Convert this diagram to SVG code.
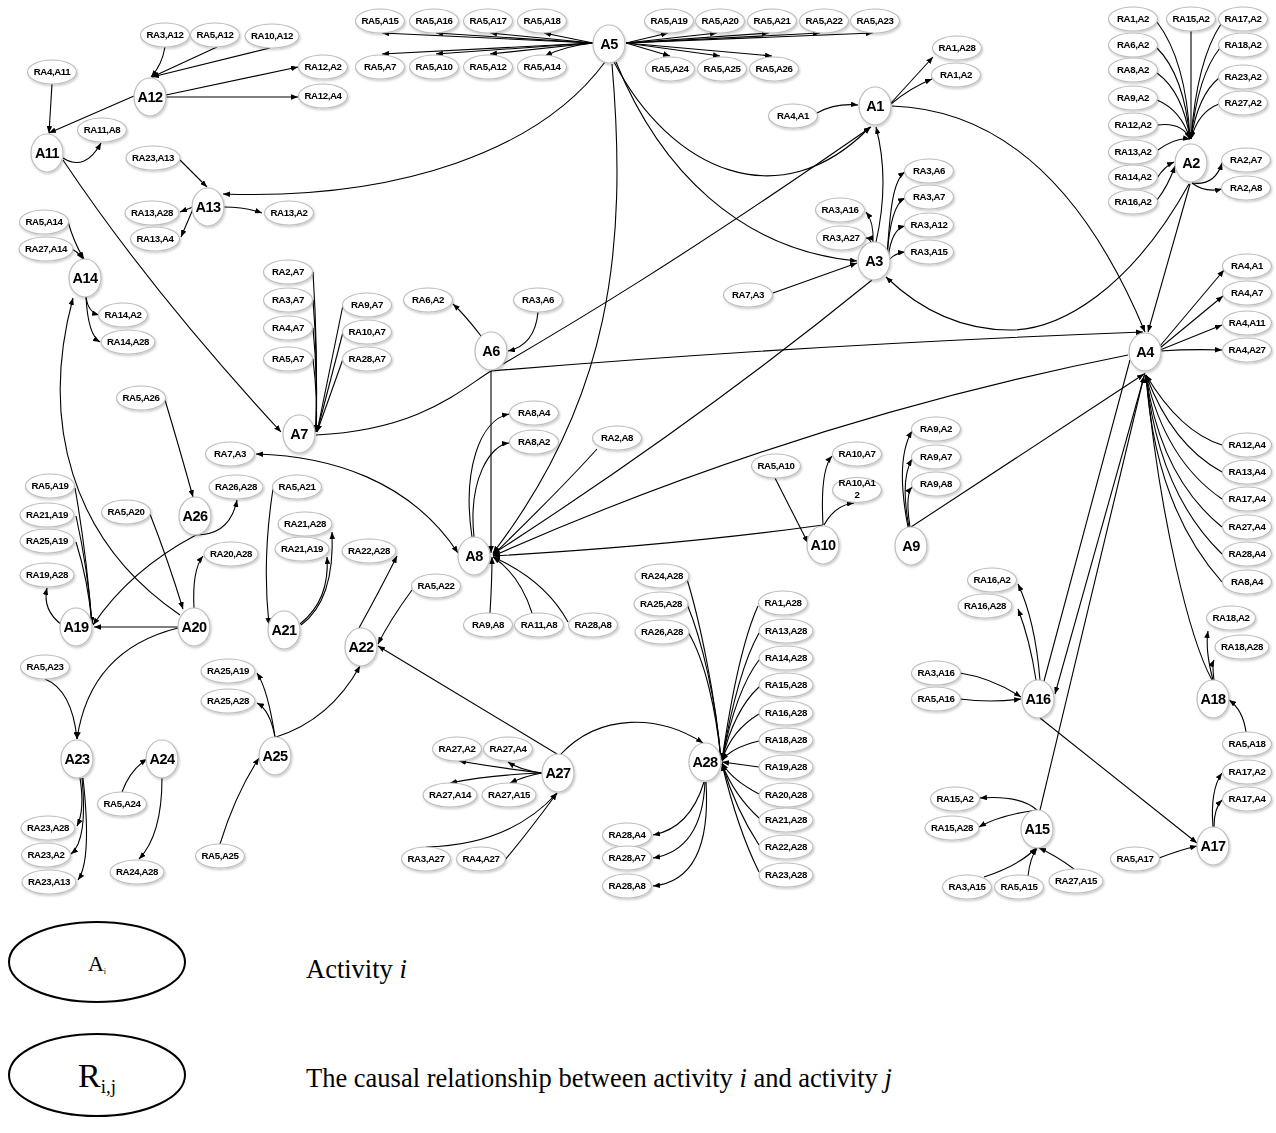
<svg xmlns="http://www.w3.org/2000/svg" width="1276" height="1133" viewBox="0 0 1276 1133">
<defs>
<style>
.n ellipse{fill:#fff;stroke:#bdbdbd;stroke-width:1.2}
.n text{font-family:"Liberation Sans",Arial,sans-serif;font-weight:bold;text-anchor:middle;fill:#000}
.ra text{font-size:9.7px;letter-spacing:-0.4px}
.an text{font-size:14.5px;letter-spacing:-0.6px}
#edges path{fill:none;stroke:#000;stroke-width:1.1;marker-end:url(#ar)}
#edges path.na{marker-end:none}
#edges path.both{marker-start:url(#ar)}
.lg ellipse{fill:#fff;stroke:#000;stroke-width:2}
.lg text{font-family:"Liberation Serif","Times New Roman",serif;fill:#000}
</style>
<marker id="ar" viewBox="0 0 10 8" refX="10" refY="4" markerWidth="7" markerHeight="5.6" markerUnits="userSpaceOnUse" orient="auto-start-reverse"><path d="M0,0 L10,4 L0,8 z" fill="#000"/></marker>
<filter id="sh" x="-20%" y="-20%" width="140%" height="150%"><feDropShadow dx="1" dy="1.5" stdDeviation="0.8" flood-color="#000" flood-opacity="0.22"/></filter>
</defs>
<rect width="1276" height="1133" fill="#fff"/>
<g id="edges">
<path d="M593,43 L382,33"/><path d="M593,43 L436,33"/><path d="M593,43 L490,33"/><path d="M593,43 L544,33"/>
<path d="M593,43 L382,54"/><path d="M593,43 L436,54"/><path d="M593,43 L490,54"/><path d="M593,43 Q565,46 545,56"/>
<path d="M626,43 L668,33"/><path d="M626,43 L717,33"/><path d="M626,43 L769,33"/><path d="M626,43 L820,33"/><path d="M626,43 L873,33"/>
<path d="M626,43 L670,56"/><path d="M626,43 L720,56"/><path d="M626,43 L772,56"/>
<path d="M605,62 C540,150 400,200 223,194"/>
<path d="M612,64 C628,250 610,400 493,553"/>
<path d="M614,62 C670,170 780,220 870,127"/>
<path d="M616,62 C660,170 740,250 857,261"/>
<path d="M891,103 L933,57"/>
<path d="M891,104 Q910,88 932,79"/>
<path d="M817,113 Q835,103 858,105"/>
<path d="M892,106 C1010,110 1090,200 1145,332"/>
<path d="M876,242 Q890,180 876,127"/>
<path d="M316,435 C420,430 460,390 491,371 C570,325 680,260 871,127"/>
<path d="M873,242 Q874,222 866,212"/>
<path d="M872,245 Q870,238 866,238"/>
<path d="M887,257 C890,210 893,180 905,172"/>
<path d="M887,258 C889,225 895,203 905,198"/>
<path d="M888,259 C890,240 896,228 905,226"/>
<path d="M889,260 Q895,253 905,252"/>
<path d="M773,293 L857,263"/>
<path d="M872,280 Q700,420 493,554"/>
<path d="M1189,184 C1130,290 1060,330 1010,330 C950,330 910,300 886,277"/>
<path d="M1190,184 L1148,332"/>
<path d="M1157,22 Q1186,60 1190,139"/><path d="M1157,48 Q1184,75 1190,139"/><path d="M1157,73 Q1183,92 1190,139"/>
<path d="M1157,100 Q1181,110 1190,139"/><path d="M1158,125 Q1182,122 1190,139"/><path d="M1158,150 Q1176,137 1190,139"/>
<path d="M1157,178 Q1165,166 1174,162"/><path d="M1157,200 Q1168,186 1175,166"/>
<path d="M1191,31 L1191,139"/>
<path d="M1221,24 Q1197,60 1191,139"/><path d="M1220,48 Q1198,75 1191,139"/><path d="M1219,78 Q1198,95 1191,139"/><path d="M1219,104 Q1198,112 1191,139"/>
<path d="M1192,183 Q1215,186 1222,163"/><path d="M1192,183 Q1205,193 1222,189"/>
<path d="M491,371 Q800,345 1143,332"/>
<path d="M1128,355 Q800,420 493,556"/>
<path d="M911,527 L1144,374"/>
<path d="M1160,346 L1224,270"/><path d="M1160,348 L1223,296"/><path d="M1160,350 L1222,325"/><path d="M1160,351 Q1190,349 1222,350"/>
<path d="M1222,445 Q1180,432 1146,375"/><path d="M1222,472 Q1172,445 1146,375"/><path d="M1222,499 Q1165,460 1146,375"/>
<path d="M1222,527 Q1160,477 1146,375"/><path d="M1222,554 Q1158,492 1146,375"/><path d="M1222,582 Q1155,507 1146,375"/>
<path class="na" d="M1130,360 L1044,681"/>
<path d="M1145,373 L1055,694"/>
<path d="M1040,810 Q1090,600 1144,376"/>
<path d="M1212,680 C1190,640 1160,520 1146,376"/>
<path d="M1036,680 Q1030,640 1018,609"/>
<path d="M1040,680 Q1035,620 1018,584"/>
<path d="M960,673 Q992,678 1021,697"/>
<path d="M960,699 Q990,703 1021,699"/>
<path d="M1040,718 L1197,843"/>
<path d="M1213,680 Q1205,650 1208,631"/>
<path d="M1214,680 Q1212,664 1214,660"/>
<path d="M1246,732 Q1243,710 1229,700"/>
<path d="M1213,827 Q1210,790 1222,773"/>
<path d="M1214,827 Q1214,808 1222,800"/>
<path d="M1159,858 Q1180,850 1197,846"/>
<path d="M1037,810 Q1020,795 980,798"/>
<path d="M1037,810 Q1000,815 979,827"/>
<path d="M984,877 Q1020,865 1036,848"/>
<path d="M1028,876 Q1030,858 1037,848"/>
<path d="M1074,869 Q1055,855 1039,848"/>
<path d="M775,478 L808,543"/>
<path d="M823,525 Q820,470 832,456"/>
<path d="M824,525 Q835,505 854,503"/>
<path d="M908,527 Q895,460 912,431"/>
<path d="M909,527 Q900,480 912,459"/>
<path d="M910,527 Q905,495 912,487"/>
<path d="M823,525 Q680,545 493,556"/>
<path d="M597,449 Q560,490 493,555"/>
<path d="M491,371 L491,553"/>
<path d="M481,336 Q465,315 453,304"/>
<path d="M538,312 Q535,345 508,351"/>
<path d="M472,537 C462,470 480,420 509,414"/>
<path d="M474,537 C468,480 490,445 509,443"/>
<path d="M490,613 Q492,580 492,557"/>
<path d="M532,613 Q520,575 493,557"/>
<path d="M568,622 Q545,580 493,557"/>
<path class="both" d="M256,454 C330,456 410,480 458,553"/>
<path d="M63,160 Q150,290 281,432"/>
<path d="M313,272 Q318,350 316,432"/><path d="M313,300 Q318,360 316,432"/><path d="M313,328 Q318,380 316,432"/><path d="M313,359 Q318,400 316,432"/>
<path d="M343,305 L317,432"/><path d="M343,332 L317,432"/><path d="M343,359 L317,432"/>
<path d="M165,47 Q162,65 151,77"/>
<path d="M217,47 L152,77"/>
<path d="M270,48 L152,77"/>
<path d="M166,95 L298,67"/>
<path d="M166,97 L298,97"/>
<path d="M134,96 L49,133"/>
<path d="M52,84 Q50,115 49,133"/>
<path d="M63,158 Q85,172 101,143"/>
<path d="M180,160 L207,187"/>
<path d="M193,207 L180,212"/>
<path d="M193,209 L181,237"/>
<path d="M224,207 Q245,207 262,213"/>
<path d="M68,222 Q75,245 84,259"/>
<path d="M72,249 Q78,252 83,259"/>
<path d="M86,297 Q88,312 99,315"/>
<path d="M86,297 Q88,335 100,342"/>
<path d="M180,615 C70,540 40,420 73,298"/>
<path d="M165,400 Q180,450 193,497"/>
<path d="M196,535 Q230,535 237,500"/>
<path d="M196,535 Q130,570 93,625"/>
<path d="M75,488 Q86,550 92,624"/>
<path d="M76,516 Q88,570 92,624"/>
<path d="M76,542 Q88,580 92,624"/>
<path d="M62,625 Q42,610 47,588"/>
<path d="M150,514 Q168,560 183,609"/>
<path d="M194,608 Q192,570 203,556"/>
<path d="M178,627 L94,627"/>
<path d="M178,628 Q90,650 77,739"/>
<path d="M273,489 Q262,560 269,625"/>
<path d="M301,625 Q335,600 332,532"/>
<path d="M300,624 Q330,600 327,557"/>
<path d="M359,628 Q380,590 397,556"/>
<path d="M412,590 Q390,620 378,644"/>
<path d="M557,754 L378,646"/>
<path d="M276,737 Q330,720 360,666"/>
<path d="M275,737 Q268,690 257,673"/>
<path d="M275,737 Q270,710 257,703"/>
<path d="M220,844 Q235,795 259,758"/>
<path d="M45,679 Q72,690 77,739"/>
<path d="M80,778 Q85,810 77,826"/>
<path d="M82,778 Q88,840 71,854"/>
<path d="M83,778 Q92,860 78,880"/>
<path d="M122,792 Q130,770 147,759"/>
<path d="M162,778 Q162,835 139,859"/>
<path d="M542,773 Q500,768 459,761"/>
<path d="M542,773 Q520,770 508,762"/>
<path d="M542,773 Q490,775 450,783"/>
<path d="M542,773 Q525,776 510,783"/>
<path d="M426,847 Q510,845 557,793"/>
<path d="M505,860 Q530,830 557,793"/>
<path d="M560,755 C600,712 660,715 703,743"/>
<path d="M686,576 C700,620 716,700 721,760"/>
<path d="M687,604 C702,640 716,700 721,760"/>
<path d="M688,632 C705,660 716,710 721,760"/>
<path d="M758,606 Q738,650 722,760"/>
<path d="M759,633 Q738,670 722,760"/>
<path d="M759,660 Q736,690 722,760"/>
<path d="M759,687 Q734,710 722,760"/>
<path d="M759,714 Q732,730 722,760"/>
<path d="M759,741 Q730,748 722,761"/>
<path d="M759,767 L722,762"/>
<path d="M759,794 Q732,780 722,763"/>
<path d="M759,818 Q734,795 722,764"/>
<path d="M759,845 Q736,810 722,764"/>
<path d="M759,872 Q738,830 722,764"/>
<path d="M704,782 Q690,828 653,835"/>
<path d="M705,782 Q702,850 653,858"/>
<path d="M706,782 Q712,880 653,886"/>
</g>
<g class="n an" filter="url(#sh)">
<g id="A1"><ellipse cx="875" cy="106" rx="16" ry="19"/><text x="875" y="111">A1</text></g>
<g id="A2"><ellipse cx="1191" cy="163" rx="16" ry="19"/><text x="1191" y="168">A2</text></g>
<g id="A3"><ellipse cx="874" cy="261" rx="16" ry="19"/><text x="874" y="266">A3</text></g>
<g id="A4"><ellipse cx="1145" cy="352" rx="16" ry="19"/><text x="1145" y="357">A4</text></g>
<g id="A5"><ellipse cx="609" cy="44" rx="16" ry="19"/><text x="609" y="49">A5</text></g>
<g id="A6"><ellipse cx="491" cy="351" rx="16" ry="19"/><text x="491" y="356">A6</text></g>
<g id="A7"><ellipse cx="299" cy="434" rx="16" ry="19"/><text x="299" y="439">A7</text></g>
<g id="A8"><ellipse cx="474" cy="556" rx="16" ry="19"/><text x="474" y="561">A8</text></g>
<g id="A9"><ellipse cx="911" cy="546" rx="16" ry="19"/><text x="911" y="551">A9</text></g>
<g id="A10"><ellipse cx="823" cy="545" rx="16" ry="19"/><text x="823" y="550">A10</text></g>
<g id="A11"><ellipse cx="47" cy="153" rx="16" ry="19"/><text x="47" y="158">A11</text></g>
<g id="A12"><ellipse cx="150" cy="97" rx="16" ry="19"/><text x="150" y="102">A12</text></g>
<g id="A13"><ellipse cx="208" cy="207" rx="16" ry="19"/><text x="208" y="212">A13</text></g>
<g id="A14"><ellipse cx="85" cy="278" rx="16" ry="19"/><text x="85" y="283">A14</text></g>
<g id="A15"><ellipse cx="1037" cy="829" rx="16" ry="19"/><text x="1037" y="834">A15</text></g>
<g id="A16"><ellipse cx="1038" cy="699" rx="16" ry="19"/><text x="1038" y="704">A16</text></g>
<g id="A17"><ellipse cx="1213" cy="846" rx="16" ry="19"/><text x="1213" y="851">A17</text></g>
<g id="A18"><ellipse cx="1213" cy="699" rx="16" ry="19"/><text x="1213" y="704">A18</text></g>
<g id="A19"><ellipse cx="76" cy="627" rx="16" ry="19"/><text x="76" y="632">A19</text></g>
<g id="A20"><ellipse cx="194" cy="627" rx="16" ry="19"/><text x="194" y="632">A20</text></g>
<g id="A21"><ellipse cx="284" cy="630" rx="16" ry="19"/><text x="284" y="635">A21</text></g>
<g id="A22"><ellipse cx="361" cy="647" rx="16" ry="19"/><text x="361" y="652">A22</text></g>
<g id="A23"><ellipse cx="77" cy="759" rx="16" ry="19"/><text x="77" y="764">A23</text></g>
<g id="A24"><ellipse cx="162" cy="759" rx="16" ry="19"/><text x="162" y="764">A24</text></g>
<g id="A25"><ellipse cx="275" cy="756" rx="16" ry="19"/><text x="275" y="761">A25</text></g>
<g id="A26"><ellipse cx="195" cy="516" rx="16" ry="19"/><text x="195" y="521">A26</text></g>
<g id="A27"><ellipse cx="558" cy="773" rx="16" ry="19"/><text x="558" y="778">A27</text></g>
<g id="A28"><ellipse cx="705" cy="762" rx="16" ry="19"/><text x="705" y="767">A28</text></g>
</g>
<g class="n ra" filter="url(#sh)">
<g id="r1"><ellipse cx="165" cy="35" rx="24.5" ry="12"/><text x="165" y="38.4">RA3,A12</text></g>
<g id="r2"><ellipse cx="215" cy="35" rx="24.5" ry="12"/><text x="215" y="38.4">RA5,A12</text></g>
<g id="r3"><ellipse cx="272" cy="36" rx="27" ry="12"/><text x="272" y="39.4">RA10,A12</text></g>
<g id="r4"><ellipse cx="52" cy="72" rx="24.5" ry="12"/><text x="52" y="75.4">RA4,A11</text></g>
<g id="r5"><ellipse cx="323" cy="67" rx="24.5" ry="12"/><text x="323" y="70.4">RA12,A2</text></g>
<g id="r6"><ellipse cx="323" cy="96" rx="24.5" ry="12"/><text x="323" y="99.4">RA12,A4</text></g>
<g id="r7"><ellipse cx="102" cy="130" rx="24.5" ry="12"/><text x="102" y="133.4">RA11,A8</text></g>
<g id="r8"><ellipse cx="153" cy="158" rx="27" ry="12"/><text x="153" y="161.4">RA23,A13</text></g>
<g id="r9"><ellipse cx="152" cy="213" rx="27" ry="12"/><text x="152" y="216.4">RA13,A28</text></g>
<g id="r10"><ellipse cx="155" cy="239" rx="24.5" ry="12"/><text x="155" y="242.4">RA13,A4</text></g>
<g id="r11"><ellipse cx="289" cy="213" rx="24.5" ry="12"/><text x="289" y="216.4">RA13,A2</text></g>
<g id="r12"><ellipse cx="44" cy="222" rx="24.5" ry="12"/><text x="44" y="225.4">RA5,A14</text></g>
<g id="r13"><ellipse cx="46" cy="249" rx="27" ry="12"/><text x="46" y="252.4">RA27,A14</text></g>
<g id="r14"><ellipse cx="123" cy="315" rx="24.5" ry="12"/><text x="123" y="318.4">RA14,A2</text></g>
<g id="r15"><ellipse cx="128" cy="342" rx="27" ry="12"/><text x="128" y="345.4">RA14,A28</text></g>
<g id="r16"><ellipse cx="288" cy="272" rx="24.5" ry="12"/><text x="288" y="275.4">RA2,A7</text></g>
<g id="r17"><ellipse cx="288" cy="300" rx="24.5" ry="12"/><text x="288" y="303.4">RA3,A7</text></g>
<g id="r18"><ellipse cx="288" cy="328" rx="24.5" ry="12"/><text x="288" y="331.4">RA4,A7</text></g>
<g id="r19"><ellipse cx="288" cy="359" rx="24.5" ry="12"/><text x="288" y="362.4">RA5,A7</text></g>
<g id="r20"><ellipse cx="367" cy="305" rx="24.5" ry="12"/><text x="367" y="308.4">RA9,A7</text></g>
<g id="r21"><ellipse cx="367" cy="332" rx="24.5" ry="12"/><text x="367" y="335.4">RA10,A7</text></g>
<g id="r22"><ellipse cx="367" cy="359" rx="24.5" ry="12"/><text x="367" y="362.4">RA28,A7</text></g>
<g id="r23"><ellipse cx="428" cy="300" rx="24.5" ry="12"/><text x="428" y="303.4">RA6,A2</text></g>
<g id="r24"><ellipse cx="538" cy="300" rx="24.5" ry="12"/><text x="538" y="303.4">RA3,A6</text></g>
<g id="r25"><ellipse cx="141" cy="398" rx="24.5" ry="12"/><text x="141" y="401.4">RA5,A26</text></g>
<g id="r26"><ellipse cx="230" cy="454" rx="24.5" ry="12"/><text x="230" y="457.4">RA7,A3</text></g>
<g id="r27"><ellipse cx="236" cy="487" rx="27" ry="12"/><text x="236" y="490.4">RA26,A28</text></g>
<g id="r28"><ellipse cx="50" cy="486" rx="24.5" ry="12"/><text x="50" y="489.4">RA5,A19</text></g>
<g id="r29"><ellipse cx="47" cy="515" rx="27" ry="12"/><text x="47" y="518.4">RA21,A19</text></g>
<g id="r30"><ellipse cx="47" cy="541" rx="27" ry="12"/><text x="47" y="544.4">RA25,A19</text></g>
<g id="r31"><ellipse cx="47" cy="575" rx="27" ry="12"/><text x="47" y="578.4">RA19,A28</text></g>
<g id="r32"><ellipse cx="126" cy="512" rx="24.5" ry="12"/><text x="126" y="515.4">RA5,A20</text></g>
<g id="r33"><ellipse cx="231" cy="554" rx="27" ry="12"/><text x="231" y="557.4">RA20,A28</text></g>
<g id="r34"><ellipse cx="297" cy="487" rx="24.5" ry="12"/><text x="297" y="490.4">RA5,A21</text></g>
<g id="r35"><ellipse cx="305" cy="524" rx="27" ry="12"/><text x="305" y="527.4">RA21,A28</text></g>
<g id="r36"><ellipse cx="302" cy="549" rx="27" ry="12"/><text x="302" y="552.4">RA21,A19</text></g>
<g id="r37"><ellipse cx="369" cy="551" rx="27" ry="12"/><text x="369" y="554.4">RA22,A28</text></g>
<g id="r38"><ellipse cx="436" cy="586" rx="24.5" ry="12"/><text x="436" y="589.4">RA5,A22</text></g>
<g id="r39"><ellipse cx="534" cy="413" rx="24.5" ry="12"/><text x="534" y="416.4">RA8,A4</text></g>
<g id="r40"><ellipse cx="534" cy="442" rx="24.5" ry="12"/><text x="534" y="445.4">RA8,A2</text></g>
<g id="r41"><ellipse cx="617" cy="438" rx="24.5" ry="12"/><text x="617" y="441.4">RA2,A8</text></g>
<g id="r42"><ellipse cx="488" cy="625" rx="24.5" ry="12"/><text x="488" y="628.4">RA9,A8</text></g>
<g id="r43"><ellipse cx="539" cy="625" rx="24.5" ry="12"/><text x="539" y="628.4">RA11,A8</text></g>
<g id="r44"><ellipse cx="593" cy="625" rx="24.5" ry="12"/><text x="593" y="628.4">RA28,A8</text></g>
<g id="r45"><ellipse cx="45" cy="667" rx="24.5" ry="12"/><text x="45" y="670.4">RA5,A23</text></g>
<g id="r46"><ellipse cx="228" cy="671" rx="27" ry="12"/><text x="228" y="674.4">RA25,A19</text></g>
<g id="r47"><ellipse cx="228" cy="701" rx="27" ry="12"/><text x="228" y="704.4">RA25,A28</text></g>
<g id="r48"><ellipse cx="122" cy="804" rx="24.5" ry="12"/><text x="122" y="807.4">RA5,A24</text></g>
<g id="r49"><ellipse cx="137" cy="872" rx="27" ry="12"/><text x="137" y="875.4">RA24,A28</text></g>
<g id="r50"><ellipse cx="48" cy="828" rx="27" ry="12"/><text x="48" y="831.4">RA23,A28</text></g>
<g id="r51"><ellipse cx="46" cy="855" rx="24.5" ry="12"/><text x="46" y="858.4">RA23,A2</text></g>
<g id="r52"><ellipse cx="49" cy="882" rx="27" ry="12"/><text x="49" y="885.4">RA23,A13</text></g>
<g id="r53"><ellipse cx="220" cy="856" rx="24.5" ry="12"/><text x="220" y="859.4">RA5,A25</text></g>
<g id="r54"><ellipse cx="457" cy="749" rx="24.5" ry="12"/><text x="457" y="752.4">RA27,A2</text></g>
<g id="r55"><ellipse cx="508" cy="749" rx="24.5" ry="12"/><text x="508" y="752.4">RA27,A4</text></g>
<g id="r56"><ellipse cx="450" cy="795" rx="27" ry="12"/><text x="450" y="798.4">RA27,A14</text></g>
<g id="r57"><ellipse cx="509" cy="795" rx="27" ry="12"/><text x="509" y="798.4">RA27,A15</text></g>
<g id="r58"><ellipse cx="426" cy="859" rx="24.5" ry="12"/><text x="426" y="862.4">RA3,A27</text></g>
<g id="r59"><ellipse cx="481" cy="859" rx="24.5" ry="12"/><text x="481" y="862.4">RA4,A27</text></g>
<g id="r60"><ellipse cx="380" cy="21" rx="24.5" ry="12"/><text x="380" y="24.4">RA5,A15</text></g>
<g id="r61"><ellipse cx="434" cy="21" rx="24.5" ry="12"/><text x="434" y="24.4">RA5,A16</text></g>
<g id="r62"><ellipse cx="488" cy="21" rx="24.5" ry="12"/><text x="488" y="24.4">RA5,A17</text></g>
<g id="r63"><ellipse cx="542" cy="21" rx="24.5" ry="12"/><text x="542" y="24.4">RA5,A18</text></g>
<g id="r64"><ellipse cx="380" cy="67" rx="24.5" ry="12"/><text x="380" y="70.4">RA5,A7</text></g>
<g id="r65"><ellipse cx="434" cy="67" rx="24.5" ry="12"/><text x="434" y="70.4">RA5,A10</text></g>
<g id="r66"><ellipse cx="488" cy="67" rx="24.5" ry="12"/><text x="488" y="70.4">RA5,A12</text></g>
<g id="r67"><ellipse cx="542" cy="67" rx="24.5" ry="12"/><text x="542" y="70.4">RA5,A14</text></g>
<g id="r68"><ellipse cx="669" cy="21" rx="24.5" ry="12"/><text x="669" y="24.4">RA5,A19</text></g>
<g id="r69"><ellipse cx="720" cy="21" rx="24.5" ry="12"/><text x="720" y="24.4">RA5,A20</text></g>
<g id="r70"><ellipse cx="772" cy="21" rx="24.5" ry="12"/><text x="772" y="24.4">RA5,A21</text></g>
<g id="r71"><ellipse cx="824" cy="21" rx="24.5" ry="12"/><text x="824" y="24.4">RA5,A22</text></g>
<g id="r72"><ellipse cx="875" cy="21" rx="24.5" ry="12"/><text x="875" y="24.4">RA5,A23</text></g>
<g id="r73"><ellipse cx="670" cy="69" rx="24.5" ry="12"/><text x="670" y="72.4">RA5,A24</text></g>
<g id="r74"><ellipse cx="722" cy="69" rx="24.5" ry="12"/><text x="722" y="72.4">RA5,A25</text></g>
<g id="r75"><ellipse cx="774" cy="69" rx="24.5" ry="12"/><text x="774" y="72.4">RA5,A26</text></g>
<g id="r76"><ellipse cx="957" cy="48" rx="24.5" ry="12"/><text x="957" y="51.4">RA1,A28</text></g>
<g id="r77"><ellipse cx="956" cy="75" rx="24.5" ry="12"/><text x="956" y="78.4">RA1,A2</text></g>
<g id="r78"><ellipse cx="793" cy="116" rx="24.5" ry="12"/><text x="793" y="119.4">RA4,A1</text></g>
<g id="r79"><ellipse cx="840" cy="210" rx="24.5" ry="12"/><text x="840" y="213.4">RA3,A16</text></g>
<g id="r80"><ellipse cx="841" cy="238" rx="24.5" ry="12"/><text x="841" y="241.4">RA3,A27</text></g>
<g id="r81"><ellipse cx="929" cy="171" rx="24.5" ry="12"/><text x="929" y="174.4">RA3,A6</text></g>
<g id="r82"><ellipse cx="929" cy="197" rx="24.5" ry="12"/><text x="929" y="200.4">RA3,A7</text></g>
<g id="r83"><ellipse cx="929" cy="225" rx="24.5" ry="12"/><text x="929" y="228.4">RA3,A12</text></g>
<g id="r84"><ellipse cx="929" cy="252" rx="24.5" ry="12"/><text x="929" y="255.4">RA3,A15</text></g>
<g id="r85"><ellipse cx="748" cy="295" rx="24.5" ry="12"/><text x="748" y="298.4">RA7,A3</text></g>
<g id="r86"><ellipse cx="1133" cy="19" rx="24.5" ry="12"/><text x="1133" y="22.4">RA1,A2</text></g>
<g id="r87"><ellipse cx="1191" cy="19" rx="24.5" ry="12"/><text x="1191" y="22.4">RA15,A2</text></g>
<g id="r88"><ellipse cx="1243" cy="19" rx="24.5" ry="12"/><text x="1243" y="22.4">RA17,A2</text></g>
<g id="r89"><ellipse cx="1133" cy="45" rx="24.5" ry="12"/><text x="1133" y="48.4">RA6,A2</text></g>
<g id="r90"><ellipse cx="1243" cy="45" rx="24.5" ry="12"/><text x="1243" y="48.4">RA18,A2</text></g>
<g id="r91"><ellipse cx="1133" cy="70" rx="24.5" ry="12"/><text x="1133" y="73.4">RA8,A2</text></g>
<g id="r92"><ellipse cx="1243" cy="77" rx="24.5" ry="12"/><text x="1243" y="80.4">RA23,A2</text></g>
<g id="r93"><ellipse cx="1133" cy="98" rx="24.5" ry="12"/><text x="1133" y="101.4">RA9,A2</text></g>
<g id="r94"><ellipse cx="1243" cy="103" rx="24.5" ry="12"/><text x="1243" y="106.4">RA27,A2</text></g>
<g id="r95"><ellipse cx="1133" cy="125" rx="24.5" ry="12"/><text x="1133" y="128.4">RA12,A2</text></g>
<g id="r96"><ellipse cx="1133" cy="152" rx="24.5" ry="12"/><text x="1133" y="155.4">RA13,A2</text></g>
<g id="r97"><ellipse cx="1133" cy="177" rx="24.5" ry="12"/><text x="1133" y="180.4">RA14,A2</text></g>
<g id="r98"><ellipse cx="1133" cy="202" rx="24.5" ry="12"/><text x="1133" y="205.4">RA16,A2</text></g>
<g id="r99"><ellipse cx="1246" cy="160" rx="24.5" ry="12"/><text x="1246" y="163.4">RA2,A7</text></g>
<g id="r100"><ellipse cx="1246" cy="188" rx="24.5" ry="12"/><text x="1246" y="191.4">RA2,A8</text></g>
<g id="r101"><ellipse cx="1247" cy="266" rx="24.5" ry="12"/><text x="1247" y="269.4">RA4,A1</text></g>
<g id="r102"><ellipse cx="1247" cy="293" rx="24.5" ry="12"/><text x="1247" y="296.4">RA4,A7</text></g>
<g id="r103"><ellipse cx="1247" cy="323" rx="24.5" ry="12"/><text x="1247" y="326.4">RA4,A11</text></g>
<g id="r104"><ellipse cx="1247" cy="350" rx="24.5" ry="12"/><text x="1247" y="353.4">RA4,A27</text></g>
<g id="r105"><ellipse cx="1247" cy="445" rx="24.5" ry="12"/><text x="1247" y="448.4">RA12,A4</text></g>
<g id="r106"><ellipse cx="1247" cy="472" rx="24.5" ry="12"/><text x="1247" y="475.4">RA13,A4</text></g>
<g id="r107"><ellipse cx="1247" cy="499" rx="24.5" ry="12"/><text x="1247" y="502.4">RA17,A4</text></g>
<g id="r108"><ellipse cx="1247" cy="527" rx="24.5" ry="12"/><text x="1247" y="530.4">RA27,A4</text></g>
<g id="r109"><ellipse cx="1247" cy="554" rx="24.5" ry="12"/><text x="1247" y="557.4">RA28,A4</text></g>
<g id="r110"><ellipse cx="1247" cy="582" rx="24.5" ry="12"/><text x="1247" y="585.4">RA8,A4</text></g>
<g id="r111"><ellipse cx="776" cy="466" rx="24.5" ry="12"/><text x="776" y="469.4">RA5,A10</text></g>
<g id="r112"><ellipse cx="857" cy="454" rx="24.5" ry="12"/><text x="857" y="457.4">RA10,A7</text></g>
<g id="r113"><ellipse cx="857" cy="490" rx="24.5" ry="12.5"/><text x="857" y="485.5">RA10,A1</text><text x="857" y="498">2</text></g>
<g id="r114"><ellipse cx="936" cy="429" rx="24.5" ry="12"/><text x="936" y="432.4">RA9,A2</text></g>
<g id="r115"><ellipse cx="936" cy="457" rx="24.5" ry="12"/><text x="936" y="460.4">RA9,A7</text></g>
<g id="r116"><ellipse cx="936" cy="484" rx="24.5" ry="12"/><text x="936" y="487.4">RA9,A8</text></g>
<g id="r117"><ellipse cx="992" cy="580" rx="24.5" ry="12"/><text x="992" y="583.4">RA16,A2</text></g>
<g id="r118"><ellipse cx="985" cy="606" rx="27" ry="12"/><text x="985" y="609.4">RA16,A28</text></g>
<g id="r119"><ellipse cx="936" cy="673" rx="24.5" ry="12"/><text x="936" y="676.4">RA3,A16</text></g>
<g id="r120"><ellipse cx="936" cy="699" rx="24.5" ry="12"/><text x="936" y="702.4">RA5,A16</text></g>
<g id="r121"><ellipse cx="1231" cy="618" rx="24.5" ry="12"/><text x="1231" y="621.4">RA18,A2</text></g>
<g id="r122"><ellipse cx="1242" cy="647" rx="27" ry="12"/><text x="1242" y="650.4">RA18,A28</text></g>
<g id="r123"><ellipse cx="1247" cy="744" rx="24.5" ry="12"/><text x="1247" y="747.4">RA5,A18</text></g>
<g id="r124"><ellipse cx="1247" cy="772" rx="24.5" ry="12"/><text x="1247" y="775.4">RA17,A2</text></g>
<g id="r125"><ellipse cx="1247" cy="799" rx="24.5" ry="12"/><text x="1247" y="802.4">RA17,A4</text></g>
<g id="r126"><ellipse cx="1135" cy="859" rx="24.5" ry="12"/><text x="1135" y="862.4">RA5,A17</text></g>
<g id="r127"><ellipse cx="955" cy="799" rx="24.5" ry="12"/><text x="955" y="802.4">RA15,A2</text></g>
<g id="r128"><ellipse cx="952" cy="828" rx="27" ry="12"/><text x="952" y="831.4">RA15,A28</text></g>
<g id="r129"><ellipse cx="967" cy="887" rx="24.5" ry="12"/><text x="967" y="890.4">RA3,A15</text></g>
<g id="r130"><ellipse cx="1019" cy="887" rx="24.5" ry="12"/><text x="1019" y="890.4">RA5,A15</text></g>
<g id="r131"><ellipse cx="1076" cy="881" rx="27" ry="12"/><text x="1076" y="884.4">RA27,A15</text></g>
<g id="r132"><ellipse cx="662" cy="576" rx="27" ry="12"/><text x="662" y="579.4">RA24,A28</text></g>
<g id="r133"><ellipse cx="661" cy="604" rx="27" ry="12"/><text x="661" y="607.4">RA25,A28</text></g>
<g id="r134"><ellipse cx="662" cy="632" rx="27" ry="12"/><text x="662" y="635.4">RA26,A28</text></g>
<g id="r135"><ellipse cx="783" cy="603" rx="24.5" ry="12"/><text x="783" y="606.4">RA1,A28</text></g>
<g id="r136"><ellipse cx="786" cy="631" rx="27" ry="12"/><text x="786" y="634.4">RA13,A28</text></g>
<g id="r137"><ellipse cx="786" cy="658" rx="27" ry="12"/><text x="786" y="661.4">RA14,A28</text></g>
<g id="r138"><ellipse cx="786" cy="685" rx="27" ry="12"/><text x="786" y="688.4">RA15,A28</text></g>
<g id="r139"><ellipse cx="786" cy="713" rx="27" ry="12"/><text x="786" y="716.4">RA16,A28</text></g>
<g id="r140"><ellipse cx="786" cy="740" rx="27" ry="12"/><text x="786" y="743.4">RA18,A28</text></g>
<g id="r141"><ellipse cx="786" cy="767" rx="27" ry="12"/><text x="786" y="770.4">RA19,A28</text></g>
<g id="r142"><ellipse cx="786" cy="795" rx="27" ry="12"/><text x="786" y="798.4">RA20,A28</text></g>
<g id="r143"><ellipse cx="786" cy="820" rx="27" ry="12"/><text x="786" y="823.4">RA21,A28</text></g>
<g id="r144"><ellipse cx="786" cy="847" rx="27" ry="12"/><text x="786" y="850.4">RA22,A28</text></g>
<g id="r145"><ellipse cx="786" cy="875" rx="27" ry="12"/><text x="786" y="878.4">RA23,A28</text></g>
<g id="r146"><ellipse cx="627" cy="835" rx="24.5" ry="12"/><text x="627" y="838.4">RA28,A4</text></g>
<g id="r147"><ellipse cx="627" cy="858" rx="24.5" ry="12"/><text x="627" y="861.4">RA28,A7</text></g>
<g id="r148"><ellipse cx="627" cy="886" rx="24.5" ry="12"/><text x="627" y="889.4">RA28,A8</text></g>
</g>
<g id="legend" class="lg">
<g id="legA"><ellipse cx="97" cy="962" rx="88" ry="40"/><text x="97" y="971" font-size="22" text-anchor="middle">A<tspan font-size="8" dy="3">i</tspan></text></g>
<g id="legR"><ellipse cx="97" cy="1075" rx="88" ry="41"/><text x="97" y="1087" font-size="34" text-anchor="middle">R<tspan font-size="19" dy="6">i,j</tspan></text></g>
<text x="306" y="978" font-size="26.5">Activity <tspan font-style="italic">i</tspan></text>
<text x="306" y="1087" font-size="26.5">The causal relationship between activity <tspan font-style="italic">i</tspan> and activity <tspan font-style="italic">j</tspan></text>
</g>
</svg>
